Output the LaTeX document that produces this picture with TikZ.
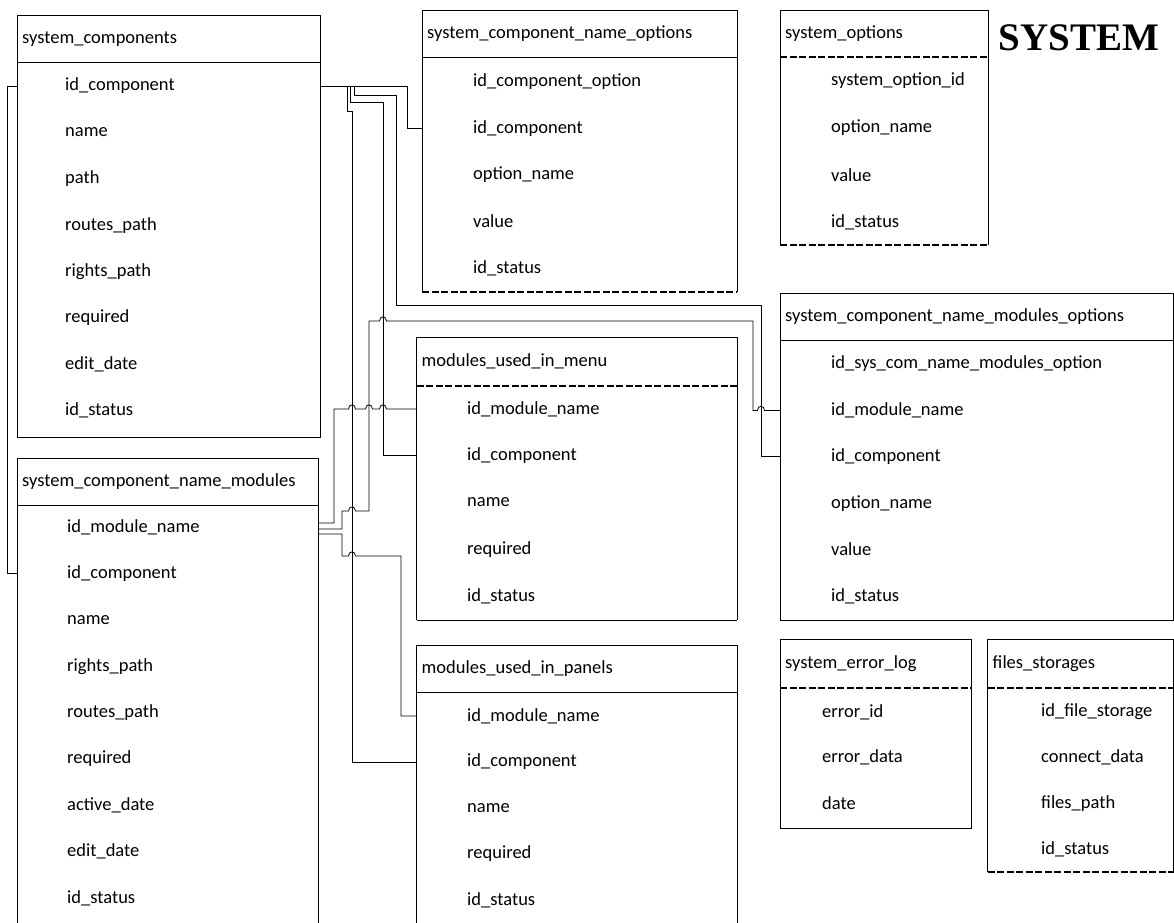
\documentclass[tikz,border=0pt]{standalone}
\usepackage{fontspec}
\setmainfont{Carlito}
\newfontfamily\headlinefont{Liberation Serif}
\usetikzlibrary{calc}

\tikzset{
  frameline/.style={draw=black, line width=0.8pt},
  solidsep/.style={draw=black, line width=0.8pt},
  dashsep/.style={draw=black, line width=2pt, dash pattern=on 7pt off 2.5pt},
  conn/.style={draw=black, line width=0.8pt, line join=miter},
  rowtext/.style={anchor=west, inner sep=0pt, font=\fontsize{18.5}{20}\selectfont},
  titletext/.style={anchor=west, inner sep=0pt, font=\fontsize{18.5}{20}\selectfont},
}

% a small semicircular jump where a horizontal connector crosses a vertical one
\newcommand\hopat[2]{-- ({#1-3.5},#2) .. controls ({#1-3.5},{#2-5.5}) and ({#1+3.5},{#2-5.5}) .. ({#1+3.5},#2)}

% table frame: name, x1, y1, x2, y2, header line y, title, header line style, bottom line style
\newcommand\dbtable[9]{%
  \node[anchor=north west, inner sep=0pt, outer sep=0pt,
        minimum width={(#4-#2)*1pt}, minimum height={(#5-#3)*1pt}] (#1) at (#2,#3) {};
  \draw[frameline] (#1.south west) -- (#1.north west) -- (#1.north east) -- (#1.south east);
  \draw[#9] (#1.south west) -- (#1.south east);
  \coordinate (#1-h) at (#2,#6);
  \draw[#8] (#1.west |- #1-h) -- (#1.east |- #1-h);
  \node[titletext] (#1-t) at ({#2+5},{(#3+#6)/2}) {#7};
}

% column rows: table name, text x, first row y, row step, list of fields
\newcommand\dbrows[5]{%
  \foreach \fld [count=\i] in {#5} {
    \node[rowtext] (#1-r\i) at (#2,{#3+(\i-1)*#4}) {\fld};
  }
}

\begin{document}
\begin{tikzpicture}[x=1pt,y=-1pt]
\useasboundingbox (0,0) rectangle (1174,922);
\clip (0,0) rectangle (1174,922);

% tables
\dbtable{sc}{17}{15}{320.5}{437}{62.5}{system\_components}{solidsep}{frameline}
\dbrows{sc}{65}{86}{46.4}{id\_component, name, path, routes\_path, rights\_path, required, edit\_date, id\_status}

\dbtable{scnm}{17}{458}{318}{950}{505.5}{system\_component\_name\_modules}{solidsep}{draw=none}
\dbrows{scnm}{67}{527}{46.4}{id\_module\_name, id\_component, name, rights\_path, routes\_path, required, active\_date, edit\_date, id\_status}

\dbtable{scno}{422}{10}{737}{292}{57}{system\_component\_name\_options}{solidsep}{dashsep}
\dbrows{scno}{473}{82}{46.5}{id\_component\_option, id\_component, option\_name, value, id\_status}

\dbtable{sysopt}{780}{10}{988}{245}{57}{system\_options}{dashsep}{dashsep}
\dbrows{sysopt}{831}{81}{47}{system\_option\_id, option\_name, value, id\_status}

\dbtable{menu}{416.5}{337}{737}{620}{385.5}{modules\_used\_in\_menu}{dashsep}{frameline}
\dbrows{menu}{467}{409}{46.75}{id\_module\_name, id\_component, name, required, id\_status}

\dbtable{panels}{416.5}{645}{737}{950}{692}{modules\_used\_in\_panels}{solidsep}{draw=none}
\dbrows{panels}{467}{716}{46}{id\_module\_name, id\_component, name, required, id\_status}

\dbtable{scnmo}{780}{293}{1173.5}{620}{340}{system\_component\_name\_modules\_options}{solidsep}{frameline}
\dbrows{scnmo}{831}{364}{46.4}{id\_sys\_com\_name\_modules\_option, id\_module\_name, id\_component, option\_name, value, id\_status}

\dbtable{errlog}{780}{639.5}{971.5}{828}{688}{system\_error\_log}{dashsep}{frameline}
\dbrows{errlog}{822}{712}{45.5}{error\_id, error\_data, date}

\dbtable{files}{987.5}{639.5}{1173.5}{872}{688}{files\_storages}{dashsep}{dashsep}
\dbrows{files}{1041}{712}{45.7}{id\_file\_storage, connect\_data, files\_path, id\_status}

% heading
\node[inner sep=0pt, font={\headlinefont\bfseries\fontsize{39}{42}\selectfont}] (heading) at (1079,38) {SYSTEM};

% relations of system_components.id_component
\draw[conn] (sc.west |- sc-r1) -- ++(-10,0) |- (scnm.west |- scnm-r2);
\draw[conn] (sc.east |- sc-r1) -| (407,128.5) -- (scno.west |- scno-r2);
\draw[conn] (sc.east |- sc-r1) -- (354,86) -- (354,95) -- (396,95) -- (396,305) -- (761,305) |- (scnmo.west |- scnmo-r3);
\draw[conn] (sc.east |- sc-r1) -- (350.5,86) -- (350.5,102) -- (383,102) |- (menu.west |- menu-r2);
\draw[conn] (sc.east |- sc-r1) -- (347,86) -- (347,111) -- (352,111) |- (panels.west |- panels-r2);

% relations of system_component_name_modules.id_module_name
\draw[conn] ($(scnm.east |- scnm-r1)+(0,-4)$) -- (334,523) -- (334,409)
  \hopat{352}{409} \hopat{369}{409} \hopat{383}{409} -- (menu.west |- menu-r1);
\draw[conn] ($(scnm.east |- scnm-r1)+(0,2)$) -- (342,529) -- (342,511)
  \hopat{352}{511} -- (369,511) -- (369,321) \hopat{383}{321} -- (753,321) -- (753,410.4)
  \hopat{761}{410.4} -- (scnmo.west |- scnmo-r2);
\draw[conn] ($(scnm.east |- scnm-r1)+(0,7)$) -- (342,534) -- (342,556)
  \hopat{352}{556} -- (401,556) |- (panels.west |- panels-r1);
\end{tikzpicture}
\end{document}
